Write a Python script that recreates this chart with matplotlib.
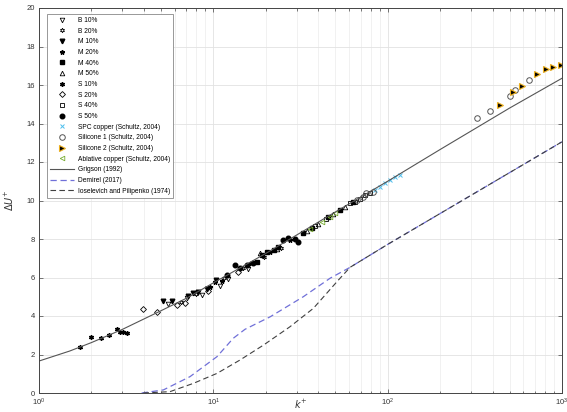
import numpy as np
import matplotlib.pyplot as plt
from matplotlib.ticker import LogLocator, MultipleLocator, NullFormatter

plt.rcParams['font.family'] = ['Liberation Sans', 'DejaVu Sans']

# roughness function data (k+ , dU+)
k_b10 = [5.53, 7.04, 8.6, 10.9, 12.2, 15.8]
u_b10 = [4.6, 4.92, 5.1, 5.55, 5.9, 6.45]
k_b20 = [6.5, 8.0, 11.5, 14.8, 19.5, 24.5]
u_b20 = [4.75, 5.15, 5.95, 6.5, 7.05, 7.55]
k_m10 = [5.17, 5.77, 7.17, 7.67, 8.2, 9.14, 10.4]
u_m10 = [4.8, 4.8, 5.04, 5.18, 5.26, 5.39, 5.85]
k_m20 = [9.6, 10.2, 11.2, 16.5, 21.0, 27.5]
u_m20 = [5.52, 5.75, 5.8, 6.75, 7.35, 7.95]
k_m40 = [17.7, 18.9, 20.2, 22.2, 23.6, 32.8, 36.6, 45.6, 53.4, 63.4]
u_m40 = [6.82, 7.17, 7.34, 7.43, 7.6, 8.3, 8.56, 9.16, 9.5, 9.94]
k_m50 = [18.5, 23.1, 34.5, 40.0, 48.5, 57.1]
u_m50 = [7.26, 7.5, 8.4, 8.8, 9.3, 9.68]
k_s10 = [1.72, 1.99, 2.27, 2.52, 2.79, 2.91, 3.05, 3.21]
u_s10 = [2.37, 2.92, 2.84, 3.03, 3.31, 3.15, 3.19, 3.1]
k_s20 = [3.94, 4.73, 6.2, 6.88, 9.3, 13.9]
u_s20 = [4.35, 4.19, 4.57, 4.69, 5.3, 6.3]
k_s40 = [38.5, 44.0, 60.9, 65.0, 69.4, 74.1, 79.1]
u_s40 = [8.7, 9.05, 9.85, 9.94, 10.1, 10.29, 10.4]
k_s50 = [11.9, 13.3, 14.2, 15.5, 16.9, 25.2, 26.9, 29.3, 30.6]
u_s50 = [6.13, 6.65, 6.48, 6.65, 6.77, 7.95, 8.04, 7.98, 7.86]
k_spc = [84.7, 90, 96, 103, 110, 117]
u_spc = [10.55, 10.7, 10.9, 11.05, 11.2, 11.3]
k_sil1 = [67.0, 72.0, 75.6, 82.6, 324, 387, 504, 538, 650]
u_sil1 = [10.05, 10.2, 10.37, 10.46, 14.27, 14.65, 15.45, 15.74, 16.26]
k_sil2 = [442, 522, 588, 722, 811, 893, 990]
u_sil2 = [14.96, 15.65, 15.95, 16.57, 16.83, 16.95, 17.04]
k_abl = [36.0, 41.9, 46.6, 50.0]
u_abl = [8.5, 8.9, 9.16, 9.35]

# curves
k_grig = [1, 1.5, 2, 3, 5, 7, 10, 20, 50, 100, 200, 500, 1000]
u_grig = [1.66, 2.18, 2.62, 3.3, 4.27, 4.92, 5.72, 7.25, 9.4, 11.0, 12.65, 14.8, 16.35]
k_dem = [3.88, 5.17, 7.35, 10.5, 13.0, 15.2, 21.2, 32.8, 46.7, 60.9, 100, 1000]
u_dem = [0.0, 0.16, 0.85, 1.89, 2.84, 3.31, 3.96, 5.0, 5.96, 6.53, 7.72, 13.05]
k_ios = [3.97, 5.64, 7.68, 10.5, 14.2, 19.4, 27.5, 37.5, 52.2, 60.9, 100, 1000]
u_ios = [0.0, 0.07, 0.5, 1.02, 1.71, 2.49, 3.44, 4.4, 5.87, 6.53, 7.72, 13.05]

fig = plt.figure(figsize=(5.67, 4.12), dpi=100)
ax = fig.add_axes([39/567, 1-393/412, 523/567, 385/412])

ms = 3.3
ax.plot(k_b10, u_b10, 'v', mfc='none', mec='k', ms=ms, mew=0.6, label='B 10%')
ax.plot(k_b20, u_b20, marker=(6, 1, 0), ls='none', mfc='none', mec='k', ms=ms, mew=0.6, label='B 20%')
ax.plot(k_m10, u_m10, 'v', color='k', ms=ms, label='M 10%')
ax.plot(k_m20, u_m20, '*', color='k', ms=ms, label='M 20%')
ax.plot(k_m40, u_m40, 's', color='k', ms=ms - 0.5, label='M 40%')
ax.plot(k_m50, u_m50, '^', mfc='none', mec='k', ms=ms, mew=0.6, label='M 50%')
ax.plot(k_s10, u_s10, marker=(6, 2, 0), ls='none', color='k', ms=ms, mew=1.0, label='S 10%')
ax.plot(k_s20, u_s20, 'D', mfc='none', mec='k', ms=ms - 0.3, mew=0.6, label='S 20%')
ax.plot(k_s40, u_s40, 's', mfc='none', mec='k', ms=ms - 0.8, mew=0.6, label='S 40%')
ax.plot(k_s50, u_s50, 'o', color='k', ms=ms, label='S 50%')
ax.plot(k_spc, u_spc, 'x', color='#4DBEEE', ms=ms, mew=0.7, label='SPC copper (Schultz, 2004)')
ax.plot(k_sil1, u_sil1, 'o', mfc='none', mec='#555555', ms=ms + 0.7, mew=0.7, label='Silicone 1 (Schultz, 2004)')
ax.plot(k_sil2, u_sil2, '>', mfc='k', mec='#EDB120', ms=ms + 0.5, mew=0.8, label='Silicone 2 (Schultz, 2004)')
ax.plot(k_abl, u_abl, '<', mfc='none', mec='#77AC30', ms=ms, mew=0.6, label='Ablative copper (Schultz, 2004)')

ax.plot(k_grig, u_grig, '-', color='#555555', lw=0.8, label='Grigson (1992)')
ax.plot(k_dem, u_dem, '--', color='#7070D8', lw=0.9, dashes=(5, 3), label='Demirel (2017)')
ax.plot(k_ios, u_ios, '--', color='#404040', lw=0.8, dashes=(5, 3), label='Ioselevich and Pilipenko (1974)')

ax.set_xscale('log')
ax.set_xlim(1, 1000)
ax.set_ylim(0, 20)
ax.yaxis.set_major_locator(MultipleLocator(2))
ax.xaxis.set_minor_locator(LogLocator(base=10, subs=np.arange(2, 10)))
ax.xaxis.set_minor_formatter(NullFormatter())

ax.grid(True, which='major', color='#e2e2e2', lw=0.6)
ax.grid(True, which='minor', axis='x', color='#ececec', lw=0.5)
ax.set_axisbelow(True)

for s in ax.spines.values():
    s.set_color('#444444')
    s.set_linewidth(0.7)
ax.tick_params(which='both', direction='in', top=True, right=True, colors='#444444',
               labelcolor='#333333', labelsize=5.5, width=0.5)
ax.tick_params(which='major', length=3, pad=3)
ax.tick_params(which='minor', length=1.8)

ax.set_xlabel(r'$k^{+}$', fontsize=7, color='#333333')
ax.xaxis.set_label_coords(0.5, -0.012)
ax.set_ylabel(r'$\mathit{\Delta U}^{+}$', fontsize=7, color='#333333')
ax.yaxis.set_label_coords(-0.044, 0.5)

leg = ax.legend(loc='upper left', bbox_to_anchor=(0.015, 0.985), borderaxespad=0,
                fontsize=4.8, labelspacing=0.55, handlelength=3.6, handletextpad=0.5,
                borderpad=0.5, fancybox=False, framealpha=1, edgecolor='#888888')
leg.get_frame().set_linewidth(0.6)

plt.savefig('out.png', dpi=100)
